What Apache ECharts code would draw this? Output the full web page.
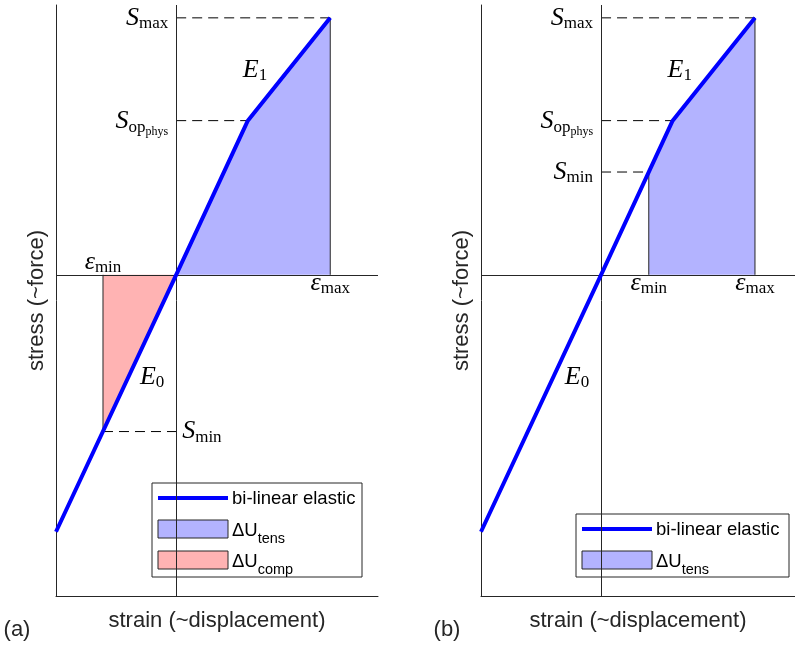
<!DOCTYPE html>
<html>
<head>
<meta charset="utf-8">
<script src="https://cdn.jsdelivr.net/npm/echarts@6/dist/echarts.min.js"></script>
<style>
  html, body { margin: 0; padding: 0; background: #ffffff; }
  #chart { width: 795px; height: 658px; }
</style>
</head>
<body>
<div id="chart"></div>
<script>
// ---- Bi-linear elastic stress-strain model (normalised units) ----
// Curve vertices: start of plotted range, origin, knee (S_op,phys), S_max
const curveStrain = [-0.78, 0, 0.465, 1.0];
const curveStress = [-1.0, 0, 0.60, 1.0];

// Characteristic points
const epsMax = 1.0, sMax = 1.0;
const epsOp = 0.465, sOp = 0.60;
// (a) load cycle crossing into compression
const epsMinA = -0.475, sMinA = -0.61;
// (b) load cycle staying in tension
const epsMinB = 0.31, sMinB = 0.40;

// Tension energy region (a): from origin along the curve up to S_max
const tensStrainA = [0, 0.465, 1.0];
const tensStressA = [0, 0.60, 1.0];
// Compression energy region (a): from S_min up to the origin
const compStrainA = [-0.475, 0];
const compStressA = [-0.61, 0];
// Tension energy region (b): from S_min along the curve up to S_max
const tensStrainB = [0.31, 0.465, 1.0];
const tensStressB = [0.40, 0.60, 1.0];

// Axis extents (panel b is cut by the right page edge)
const xRangeA = [-0.78, 1.31];
const xRangeB = [-0.78, 1.26];
const yRange = [-1.25, 1.05];

const BLUE = '#0000ff';
const INK = '#262626';
const FILL_T = '#b3b3ff';
const FILL_C = '#ffb3b3';
const SANS = 'Liberation Sans';
const SERIF = 'Liberation Serif';

const zip = (xs, ys) => xs.map((x, i) => [x, ys[i]]);

function seg(idx, pts, style, z) {
  return {
    type: 'line', xAxisIndex: idx, yAxisIndex: idx, data: pts,
    symbol: 'none', silent: true, z: z || 3,
    lineStyle: style
  };
}
function area(idx, pts, color) {
  return {
    type: 'line', xAxisIndex: idx, yAxisIndex: idx, data: pts,
    symbol: 'none', silent: true, z: 1,
    lineStyle: { width: 0, opacity: 0 },
    areaStyle: { color: color, opacity: 1, origin: 0 }
  };
}
function zeroLines(idx) {
  return {
    type: 'line', xAxisIndex: idx, yAxisIndex: idx, data: [],
    symbol: 'none', silent: true, z: 2,
    markLine: {
      silent: true, symbol: 'none', animation: false,
      label: { show: false },
      lineStyle: { color: INK, width: 1, type: 'solid' },
      data: [{ xAxis: 0 }, { yAxis: 0 }]
    }
  };
}
const dash = { color: '#000', width: 1, type: [10, 6] };
const edge = { color: INK, width: 1 };
const curve = { color: BLUE, width: 4, cap: 'butt', join: 'round' };

function xAxisCfg(gi, range) {
  return {
    gridIndex: gi, type: 'value', min: range[0], max: range[1],
    axisLine: { onZero: false, lineStyle: { color: INK, width: 1 } },
    axisTick: { show: false }, axisLabel: { show: false }, splitLine: { show: false },
    name: 'strain (~displacement)', nameLocation: 'middle', nameGap: 14,
    nameTextStyle: { fontFamily: SANS, fontSize: 22, color: INK }
  };
}
function yAxisCfg(gi) {
  return {
    gridIndex: gi, type: 'value', min: yRange[0], max: yRange[1],
    axisLine: { onZero: false, lineStyle: { color: INK, width: 1 } },
    axisTick: { show: false }, axisLabel: { show: false }, splitLine: { show: false },
    name: 'stress (~force)', nameLocation: 'middle', nameGap: 8,
    nameTextStyle: { fontFamily: SANS, fontSize: 22, color: INK }
  };
}

const chart = echarts.init(document.getElementById('chart'), null, { renderer: 'canvas' });

const series = [
  // panel (a)
  area(0, zip(tensStrainA, tensStressA), FILL_T),
  area(0, zip(compStrainA, compStressA), FILL_C),
  seg(0, [[epsMax, 0], [epsMax, sMax]], edge),
  seg(0, [[epsMinA, 0], [epsMinA, sMinA]], edge),
  zeroLines(0),
  seg(0, [[0, sMax], [epsMax, sMax]], dash),
  seg(0, [[0, sOp], [epsOp, sOp]], dash),
  seg(0, [[epsMinA, sMinA], [0, sMinA]], dash),
  seg(0, zip(curveStrain, curveStress), curve, 5),
  // panel (b)
  area(1, zip(tensStrainB, tensStressB), FILL_T),
  seg(1, [[epsMax, 0], [epsMax, sMax]], edge),
  seg(1, [[epsMinB, 0], [epsMinB, sMinB]], edge),
  zeroLines(1),
  seg(1, [[0, sMax], [epsMax, sMax]], dash),
  seg(1, [[0, sOp], [epsOp, sOp]], dash),
  seg(1, [[0, sMinB], [epsMinB, sMinB]], dash),
  seg(1, zip(curveStrain, curveStress), curve, 5)
];

chart.setOption({
  animation: false,
  backgroundColor: '#ffffff',
  grid: [
    { left: 56, top: 5, width: 322, height: 591 },
    { left: 481, top: 5, width: 314, height: 591 }
  ],
  xAxis: [xAxisCfg(0, xRangeA), xAxisCfg(1, xRangeB)],
  yAxis: [yAxisCfg(0), yAxisCfg(1)],
  series: series
});

// ---- math annotations ----
const mathRich = (color) => ({
  m: { fontFamily: SERIF, fontStyle: 'italic', fontSize: 26, lineHeight: 26, color: color, verticalAlign: 'top' },
  s: { fontFamily: SERIF, fontSize: 17, lineHeight: 17, color: color, verticalAlign: 'top', padding: [10, 0, 0, 0] },
  ss: { fontFamily: SERIF, fontSize: 12, lineHeight: 12, color: color, verticalAlign: 'top', padding: [17, 0, 0, 0] }
});
function mathLabel(pt, dx, dy, text, align, color) {
  return {
    type: 'text', x: pt[0] + dx, y: pt[1] + dy, silent: true, z: 10,
    style: {
      text: text, rich: mathRich(color || INK),
      align: align, verticalAlign: 'middle'
    }
  };
}
const px = (gi, x, y) => chart.convertToPixel({ gridIndex: gi }, [x, y]);

function panelLabels(gi, epsMin, sMin, below) {
  const o = px(gi, 0, 0);
  const out = [
    mathLabel(px(gi, 0, sMax), -8, 0, '{m|S}{s|max}', 'right'),
    mathLabel(px(gi, 0, sOp), -8, 1, '{m|S}{s|op}{ss|phys}', 'right'),
    mathLabel(px(gi, epsMax, 0), 0, 8, '{m|ε}{s|max}', 'center'),
    mathLabel(px(gi, (epsOp + epsMax) / 2, (sOp + sMax) / 2), -34, 1, '{m|E}{s|1}', 'center', BLUE),
    mathLabel([o[0], o[1]], -24, 102, '{m|E}{s|0}', 'center', BLUE)
  ];
  if (below) {
    out.push(mathLabel(px(gi, epsMin, 0), 0, 8, '{m|ε}{s|min}', 'center'));
    out.push(mathLabel(px(gi, 0, sMin), -8, 0, '{m|S}{s|min}', 'right'));
  } else {
    out.push(mathLabel(px(gi, epsMin, 0), 0, -13, '{m|ε}{s|min}', 'center'));
    out.push(mathLabel(px(gi, 0, sMin), 6, 0, '{m|S}{s|min}', 'left'));
  }
  return out;
}

// ---- legends ----
const legRich = {
  t: { fontFamily: SANS, fontSize: 18.5, lineHeight: 18, color: INK, verticalAlign: 'top' },
  d: { fontFamily: SANS, fontSize: 14.5, lineHeight: 14, color: INK, verticalAlign: 'top', padding: [10, 0, 0, 0] }
};
function legendBox(x, y, w, entries) {
  const rowH = 31;
  const h = entries.length * rowH + 1;
  const children = [{
    type: 'rect', shape: { x: x, y: y, width: w, height: h },
    style: { fill: '#ffffff', stroke: INK, lineWidth: 1 }
  }];
  entries.forEach((e, i) => {
    const cy = y + 15 + i * rowH;
    if (e.kind === 'line') {
      children.push({ type: 'line', shape: { x1: x + 6, y1: cy, x2: x + 76, y2: cy },
        style: { stroke: BLUE, lineWidth: 4 } });
    } else {
      children.push({ type: 'rect', shape: { x: x + 6, y: cy - 9, width: 70, height: 18 },
        style: { fill: e.color, stroke: INK, lineWidth: 1 } });
    }
    children.push({ type: 'text', x: x + 80, y: cy + (e.kind === 'line' ? 0 : 1),
      style: { text: e.text, rich: legRich, align: 'left', verticalAlign: 'middle' } });
  });
  return { type: 'group', silent: true, z: 20, children: children };
}

const graphics = []
  .concat(panelLabels(0, epsMinA, sMinA, false))
  .concat(panelLabels(1, epsMinB, sMinB, true))
  .concat([
    legendBox(152, 483, 210, [
      { kind: 'line', text: '{t|bi-linear elastic}' },
      { kind: 'rect', color: FILL_T, text: '{t|ΔU}{d|tens}' },
      { kind: 'rect', color: FILL_C, text: '{t|ΔU}{d|comp}' }
    ]),
    legendBox(576, 514, 213, [
      { kind: 'line', text: '{t|bi-linear elastic}' },
      { kind: 'rect', color: FILL_T, text: '{t|ΔU}{d|tens}' }
    ]),
    { type: 'text', x: 17, y: 630, silent: true,
      style: { text: '(a)', fontFamily: SANS, fontSize: 22, fill: INK, align: 'center', verticalAlign: 'middle' } },
    { type: 'text', x: 447, y: 630, silent: true,
      style: { text: '(b)', fontFamily: SANS, fontSize: 22, fill: INK, align: 'center', verticalAlign: 'middle' } }
  ]);

chart.setOption({ graphic: graphics });
</script>
</body>
</html>
